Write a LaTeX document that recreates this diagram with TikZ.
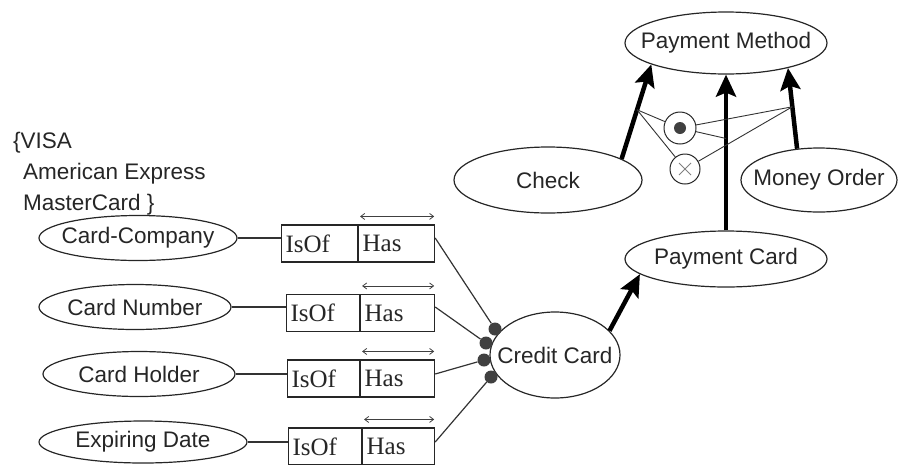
\documentclass[tikz,border=0pt]{standalone}
\usepackage{fontspec}
\setmainfont{Liberation Serif}
\newfontfamily\sansf{Liberation Sans}
\usetikzlibrary{shapes.geometric,arrows.meta}
\newcommand{\ctrtxt}[1]{\makebox[0pt]{#1}}
\begin{document}
\begin{tikzpicture}[x=1pt,y=-1pt,
  ent/.style n args={2}{draw=black!85, line width=1.2pt, ellipse, inner sep=0pt,
      minimum width=#1, minimum height=#2, text=black!85,
      font=\sansf\fontsize{22.5}{27}\selectfont},
  box/.style={draw=black!85, line width=1.1pt, rectangle, minimum height=37pt,
      inner xsep=4pt, inner ysep=0pt, text width=#1, align=left, text=black!85,
      font=\fontsize{25}{28}\selectfont},
  thinline/.style={draw=black!80, line width=1.2pt},
  relline/.style={draw=black!80, line width=0.9pt},
  dblarrow/.style={draw=black!75, line width=0.8pt, {Straight Barb[length=4pt,width=6pt]}-{Straight Barb[length=4pt,width=6pt]}},
  bigarrow/.style={draw=black, line width=4.5pt, -{Stealth[length=22pt,width=20pt,inset=4pt]}},
  dot/.style={circle, fill=black!75, minimum size=13pt, inner sep=0pt},
  ring/.style={circle, draw=black!85, line width=1pt, minimum size=#1, inner sep=0pt},
  sanstext/.style={text=black!85, font=\sansf\fontsize{22.5}{31}\selectfont, inner sep=0pt}
]
\useasboundingbox (0,0) rectangle (899,464);

% Entities
\node[ent={202pt}{62pt}] (pm) at (726,43) {\ctrtxt{Payment Method}};
\node[ent={188pt}{66pt}] (chk) at (548,180) {\ctrtxt{Check}};
\node[ent={156pt}{64pt}] (mo) at (819,180) {\ctrtxt{Money Order}};
\node[ent={202pt}{56pt}] (pc) at (726,259) {\ctrtxt{Payment Card}};
\node[ent={130pt}{86pt}] (cc) at (555,355) {\ctrtxt{Credit Card}};
\node[ent={198pt}{45pt}] (e1) at (138,238) {\ctrtxt{Card-Company}};
\node[ent={192pt}{45pt}] (e2) at (135,307) {\ctrtxt{Card Number}};
\node[ent={192pt}{45pt}] (e3) at (139,374) {\ctrtxt{Card Holder}};
\node[ent={208pt}{42pt}] (e4) at (143,442) {\ctrtxt{Expiring Date}};

% Value set text
\node[sanstext, anchor=north west, align=left] (brands) at (13,132)
  {\{VISA\\\hspace{10pt}American Express\\\hspace{10pt}MasterCard \}};

% IsOf / Has boxes
\node[box=68pt, anchor=west] (b1i) at (281,243.5) {IsOf};
\node[box=68pt, anchor=west] (b1h) at (b1i.east) {Has};
\node[box=65pt, anchor=west] (b2i) at (286,313) {IsOf};
\node[box=66pt, anchor=west] (b2h) at (b2i.east) {Has};
\node[box=64pt, anchor=west] (b3i) at (287,378.5) {IsOf};
\node[box=66pt, anchor=west] (b3h) at (b3i.east) {Has};
\node[box=65pt, anchor=west] (b4i) at (288,446.5) {IsOf};
\node[box=64pt, anchor=west] (b4h) at (b4i.east) {Has};

% double arrows above Has
\foreach \b in {b1h,b2h,b3h,b4h}{
  \draw[dblarrow] ([xshift=2pt,yshift=8pt]\b.north west) -- ([xshift=-1pt,yshift=8pt]\b.north east);
}

% entity to box lines
\draw[thinline] (e1.east) -- (e1.east -| b1i.west);
\draw[thinline] (e2.east) -- (e2.east -| b2i.west);
\draw[thinline] (e3.east) -- (e3.east -| b3i.west);
\draw[thinline] (e4.east) -- (e4.east -| b4i.west);

% dots on Credit Card
\node[dot] (d1) at (495,329) {};
\node[dot] (d2) at (486,343) {};
\node[dot] (d3) at (484,360) {};
\node[dot] (d4) at (491,377) {};
\draw[thinline] (e1.east -| b1h.east) -- (d1);
\draw[thinline] (e2.east -| b2h.east) -- (d2);
\draw[thinline] (e3.east -| b3h.east) -- (d3);
\draw[thinline] (e4.east -| b4h.east) -- (d4);

% generalisation arrows
\draw[bigarrow] (cc.24) -- (pc.190);
\draw[bigarrow] (chk.16) -- coordinate[pos=0.52] (chkp) (pm.196);
\draw[bigarrow] (pc.north) -- coordinate[pos=0.59] (pcp) (pm.south);
\draw[bigarrow] (mo.125) -- coordinate[pos=0.52] (mop) (pm.338);

% constraint circles
\node[ring=32pt] (c1) at (680,128) {};
\fill[black!75] (c1.center) circle[radius=6pt];
\node[ring=30pt] (c2) at (685,169) {};
\draw[black!50, line width=0.8pt] ([shift={(-6pt,-6pt)}]c2.center) -- ([shift={(6pt,6pt)}]c2.center);
\draw[black!50, line width=0.8pt] ([shift={(-6pt,6pt)}]c2.center) -- ([shift={(6pt,-6pt)}]c2.center);

\draw[relline] (chkp) -- (c1);
\draw[relline] (chkp) -- (c2);
\draw[relline] (c1) -- (pcp);
\draw[relline] (c1) -- (mop);
\draw[relline] (c2) -- (mop);
\end{tikzpicture}
\end{document}
